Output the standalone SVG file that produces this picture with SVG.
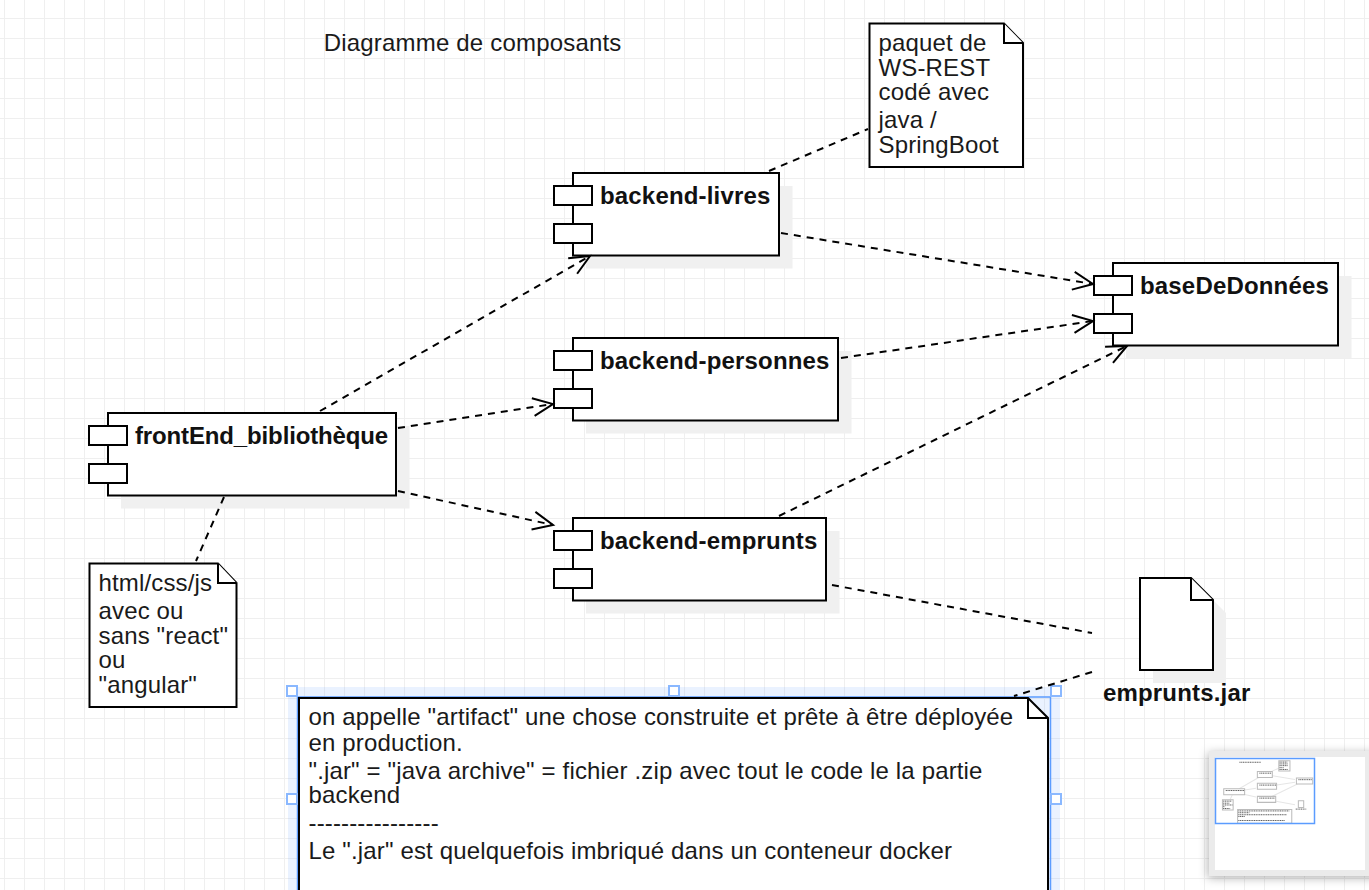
<svg xmlns="http://www.w3.org/2000/svg" width="1369" height="890" viewBox="0 0 1369 890">
<style>
text{font-family:"Liberation Sans",Arial,sans-serif;font-size:24px;fill:#1a1a1a;letter-spacing:.15px}
.b{font-weight:bold;fill:#111;letter-spacing:.17px}
.box{fill:#fff;stroke:#000;stroke-width:2}
.port{fill:#fff;stroke:#000;stroke-width:2}
.sh{fill:#f0f0f0}
.c{fill:none;stroke:#000;stroke-width:2;stroke-dasharray:7 6}
.note{fill:#fff;stroke:#000;stroke-width:2;stroke-linejoin:miter}
.h{fill:#fff;stroke:#8ab8ff;stroke-width:2}
</style>
<defs>
<pattern id="grid" width="20" height="20" patternUnits="userSpaceOnUse" x="4" y="18"><path d="M0.5 0V20M0 0.5H20" fill="none" stroke="#efefef" stroke-width="1"/></pattern>
<marker id="open" markerUnits="userSpaceOnUse" markerWidth="30" markerHeight="30" refX="20" refY="9" orient="auto" overflow="visible"><path d="M0 0L20 9L0 18" fill="none" stroke="#000" stroke-width="2"/></marker>
<filter id="mapshadow" x="-20%" y="-20%" width="140%" height="140%"><feDropShadow dx="-1" dy="2" stdDeviation="5" flood-color="#000" flood-opacity=".3"/></filter>
<filter id="soft" x="-5%" y="-5%" width="110%" height="110%"><feGaussianBlur stdDeviation=".3"/></filter>
</defs>
<rect width="1369" height="890" fill="#fff"/>
<rect width="1369" height="890" fill="url(#grid)"/>
<g id="title"><text x="323.700" y="51" style="letter-spacing:.19px">Diagramme de composants</text></g>
<g id="backend-livres"><rect class="sh" x="586" y="186" width="206.500" height="82.500"/><rect class="box" x="573" y="173" width="206" height="82.500"/><rect class="port" x="554" y="186" width="38" height="19"/><rect class="port" x="554" y="224" width="38" height="19"/><text class="b" x="600" y="204">backend-livres</text></g>
<g id="backend-personnes"><rect class="sh" x="586" y="351" width="265.500" height="82.500"/><rect class="box" x="573" y="338" width="265" height="82.500"/><rect class="port" x="554" y="351" width="38" height="19"/><rect class="port" x="554" y="389" width="38" height="19"/><text class="b" x="600" y="369">backend-personnes</text></g>
<g id="backend-emprunts"><rect class="sh" x="586" y="531" width="253.500" height="82.500"/><rect class="box" x="573" y="518" width="253" height="82.500"/><rect class="port" x="554" y="531" width="38" height="19"/><rect class="port" x="554" y="569" width="38" height="19"/><text class="b" x="600" y="549">backend-emprunts</text></g>
<g id="baseDeDonnees"><rect class="sh" x="1126" y="276" width="225.500" height="82.500"/><rect class="box" x="1113" y="263" width="225" height="82.500"/><rect class="port" x="1094" y="276" width="38" height="19"/><rect class="port" x="1094" y="314" width="38" height="19"/><text class="b" x="1140" y="294">baseDeDonnées</text></g>
<g id="frontEnd"><rect class="sh" x="121" y="426" width="288.500" height="82.500"/><rect class="box" x="108" y="413" width="288" height="82.500"/><rect class="port" x="89" y="426" width="38" height="19"/><rect class="port" x="89" y="464" width="38" height="19"/><text class="b" x="135" y="444" style="letter-spacing:-.14px">frontEnd_bibliothèque</text></g>
<g id="note-ws"><path class="note" d="M869.500 23.500H1004L1023 43V167H869.500Z"/><path class="note" d="M1004 23.500V43H1023"/><text x="878.500" y="51">paquet de</text><text x="878.500" y="76">WS-REST</text><text x="878.500" y="100">codé avec</text><text x="878.500" y="128">java /</text><text x="878.500" y="153">SpringBoot</text></g>
<g id="note-front"><path class="note" d="M89.500 563.500H218L236.500 583V707H89.500Z"/><path class="note" d="M218 563.500V583H236.500"/><text x="98.500" y="591">html/css/js</text><text x="98.500" y="619">avec ou</text><text x="98.500" y="644">sans "react"</text><text x="98.500" y="668">ou</text><text x="98.500" y="693">"angular"</text></g>
<g id="artifact-jar"><path class="sh" d="M1153 591H1204L1226 613V683H1153Z"/><path class="note" d="M1140 578H1191L1213 600V670H1140Z"/><path class="note" d="M1191 578V600H1213"/><text class="b" x="1103" y="701">emprunts.jar</text></g>
<g id="note-artifact">
<rect x="288" y="687" width="772" height="203" fill="#5b9cff" fill-opacity=".13"/>
<path d="M297.500 890V697H1050.500V890" fill="none" stroke="#5b9cff" stroke-width="1.500"/>
<path d="M299 698H1028L1048 718V892H299Z" fill="#fff" stroke="#000" stroke-width="2"/>
<path d="M1028 698V718H1048" fill="none" stroke="#000" stroke-width="2"/>
<text x="308.500" y="725">on appelle "artifact" une chose construite et prête à être déployée</text>
<text x="308.500" y="751">en production.</text>
<text x="308.500" y="779">".jar" = "java archive" = fichier .zip avec tout le code le la partie</text>
<text x="308.500" y="803">backend</text>
<text x="308.500" y="831">----------------</text>
<text x="308.500" y="859">Le ".jar" est quelquefois imbriqué dans un conteneur docker</text>
<rect class="h" x="287" y="686" width="10" height="10"/><rect class="h" x="669" y="686" width="10" height="10"/><rect class="h" x="1051" y="686" width="10" height="10"/><rect class="h" x="287" y="794" width="10" height="10"/><rect class="h" x="1051" y="794" width="10" height="10"/>
</g>
<g id="connectors">
<path class="c" d="M320 411L590 256" marker-end="url(#open)"/>
<path class="c" d="M398 428L553 404" marker-end="url(#open)"/>
<path class="c" d="M398 491L553 525" marker-end="url(#open)"/>
<path class="c" d="M224 497L196 561"/>
<path class="c" d="M781 233L1093 284" marker-end="url(#open)"/>
<path class="c" d="M841 358L1093 321" marker-end="url(#open)"/>
<path class="c" d="M779 516L1127 346" marker-end="url(#open)"/>
<path class="c" d="M769 171L868 129"/>
<path class="c" d="M832 585L1092 633"/>
<path class="c" d="M1092 672L1014 696"/>
</g>
<g id="minimap">
<rect x="1209" y="751" width="170" height="125" fill="#ebebeb" filter="url(#mapshadow)"/>
<rect x="1215" y="757" width="150" height="113" fill="#fff"/>
<g transform="translate(1216 759) scale(.0723)" fill="none" stroke="#bbb" stroke-width="14" filter="url(#soft)">
<path d="M320 411L590 256M398 428L553 404M398 491L553 525M224 497L196 561M781 233L1093 284M841 358L1093 321M779 516L1127 346M769 171L868 129M832 585L1092 633" stroke="#e6e6e6"/>
<path d="M572 172h207v83H572zM572 337h266v83H572zM572 517h254v83H572zM1112 262h226v83H1112zM107 412h289v83H107zM869 23h154v144H869zM89 563h148v144H89zM1139 577h74v93h-74zM299 698h749v192H299z" fill="#fff"/>
<path d="M324 45H621M600 196H770M600 361H830M600 541H817M1140 286H1329M135 436H388M1103 693H1250M309 718H1014M309 743H462M309 771H982M309 795H400M309 851H953M879 43H986M879 68H990M879 92H990M879 120H935M879 145H999M99 583H212M99 611H184M99 636H228M99 660H126M99 685H197" stroke="#444" stroke-width="12" stroke-dasharray="16 8"/>
</g>
<rect x="1215.500" y="758.500" width="99" height="65" fill="none" stroke="#5b9cff" stroke-width="1.500"/>
</g>
</svg>
